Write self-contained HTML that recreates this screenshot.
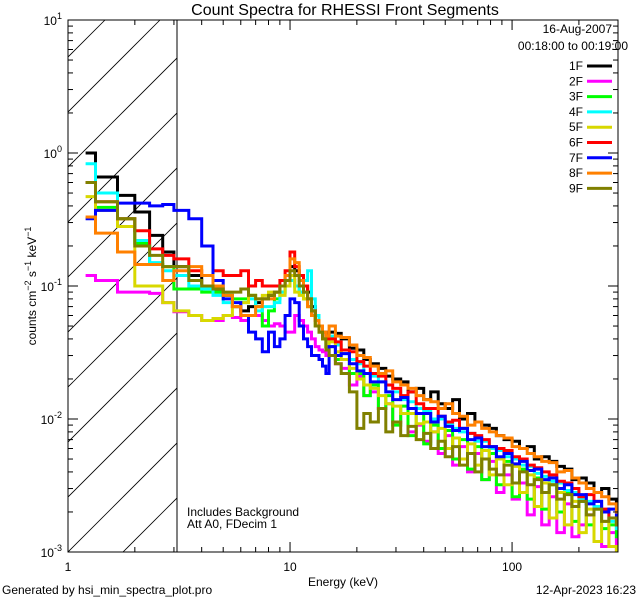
<!DOCTYPE html>
<html><head><meta charset="utf-8"><style>
body{margin:0;background:#fff}
svg text{font-family:"Liberation Sans",sans-serif;font-size:12px;fill:#000}
</style></head><body>
<svg id="chart" width="640" height="600" xmlns="http://www.w3.org/2000/svg">
<rect width="640" height="600" fill="#fff"/>
<text x="345" y="15" text-anchor="middle" style="font-size:16px">Count Spectra for RHESSI Front Segments</text>
<defs><clipPath id="plotclip"><rect x="68" y="20" width="550" height="532"/></clipPath>
<clipPath id="hatchclip"><rect x="68" y="20" width="109" height="532"/></clipPath></defs>
<g id="hatch" clip-path="url(#hatchclip)"></g>
<line x1="177" y1="20" x2="177" y2="552" stroke="#000" stroke-width="1"/>
<g id="series" clip-path="url(#plotclip)"></g>
<g id="axes"></g>
<rect x="68" y="20" width="550" height="532" fill="none" stroke="#000" stroke-width="1"/>
<text x="343" y="586" text-anchor="middle">Energy (keV)</text>
<text transform="translate(36,286) rotate(-90)" text-anchor="middle">counts cm<tspan dy="-5" style="font-size:9px">−2</tspan><tspan dy="5"> s</tspan><tspan dy="-5" style="font-size:9px">−1</tspan><tspan dy="5"> keV</tspan><tspan dy="-5" style="font-size:9px">−1</tspan></text>
<text x="612" y="33" text-anchor="end">16-Aug-2007</text>
<text x="628" y="50" text-anchor="end">00:18:00 to 00:19:00</text>
<g id="legend"></g>
<text x="187" y="516">Includes Background</text>
<text x="187" y="528">Att A0, FDecim 1</text>
<text x="2" y="594">Generated by hsi_min_spectra_plot.pro</text>
<text x="636" y="594" text-anchor="end">12-Apr-2023 16:23</text>
</svg>
<script>
const edges=[1.2,1.33,1.67,2,2.33,2.67,3,3.5,4,4.5,5,5.5,6,6.5,7,7.5,8,8.5,9,9.5,10,10.5,11,11.5,12,12.5,13,13.5,14,14.5,15,
16,17,18.5,20,21.5,23,25,27,29,31.5,34,37,40,43,46.5,50,54,58,63,68,73,79,85,92,100,108,117,126,136,147,159,172,186,200,216,234,253,273,295,300];
const seriesNames=["1F","2F","3F","4F","5F","6F","7F","8F","9F"];
const seriesColors=["#000000","#ff00ff","#00ff00","#00ffff","#d8d800","#ff0000","#0000ff","#ff8000","#808000"];
const s1F=[1.0,.66,.48,.36,.24,.18, .14,.12,.1,.09,.085,.07,.065,.07,.075,.08,.085,.09,.1,.11,.14,.13,.12,.1,.09,.07,.06,.05,.045,.04,
.045,.044,.04,.034,.033,.028,.026,.024,.021,.02,.019,.016,.017,.014,.016,.013,.012,.014,.01,.011,.0095,.009,.0085,.0075,.007,.0068,.006,.0062,.005,.0052,.0048,.0044,.0042,.0035,.0036,.0033,.0028,.003,.0025,.0022];
const s2F=[.12,.11,.09,.09,.088,.075, .064,.06,.055,.055,.06,.058,.055,.06,.06,.055,.05,.052,.05,.045,.045,.06,.055,.05,.045,.04,.035,.033,.032,.03,
.03,.026,.024,.018,.021,.015,.016,.012,.013,.0095,.011,.008,.009,.0068,.008,.0055,.0075,.0045,.0062,.004,.0055,.0035,.0048,.0028,.0038,.0025,.0033,.0019,.0031,.0016,.0026,.0014,.0023,.0013,.0016,.0019,.0012,.0011,.0014,.001];
const s3F=[.6,.39,.32,.21,.145,.14, .095,.095,.09,.09,.085,.08,.08,.085,.07,.05,.065,.08,.09,.1,.11,.1,.09,.08,.07,.06,.05,.045,.04,.035,
.035,.028,.028,.022,.022,.015,.018,.012,.015,.009,.0125,.0075,.011,.0065,.009,.006,.0082,.005,.007,.0042,.0062,.0035,.0055,.0032,.0048,.0026,.0042,.0025,.0036,.0021,.0032,.002,.0028,.0017,.0024,.0016,.0021,.0015,.0016,.0013];
const s4F=[.83,.5,.28,.22,.15,.13, .12,.1,.095,.085,.075,.07,.075,.08,.065,.07,.07,.075,.09,.1,.11,.1,.09,.11,.13,.08,.06,.05,.045,.04,
.042,.036,.031,.028,.026,.022,.021,.019,.016,.016,.014,.0135,.012,.0115,.01,.01,.0092,.0085,.008,.0078,.0068,.0068,.006,.0058,.0052,.005,.0045,.0044,.0039,.0037,.0034,.0033,.0029,.0028,.0025,.0024,.0022,.002,.0017,.0015];
const s5F=[.47,.37,.28,.1,.1,.075, .065,.06,.055,.057,.06,.07,.075,.085,.08,.085,.09,.09,.085,.1,.12,.09,.085,.08,.07,.06,.05,.045,.04,.035,
.038,.032,.028,.024,.02,.018,.017,.015,.013,.0125,.011,.011,.0092,.0095,.008,.0085,.006,.0072,.005,.0065,.0045,.0058,.0038,.005,.0032,.0044,.0028,.0038,.0022,.0033,.0018,.0028,.0016,.0024,.0014,.0021,.0012,.0017,.0011,.001];
const s6F=[.6,.43,.32,.26,.19,.17, .16,.13,.12,.13,.12,.12,.13,.1,.11,.1,.1,.1,.11,.13,.18,.14,.12,.1,.08,.065,.055,.05,.045,.04,
.04,.038,.033,.032,.027,.025,.022,.021,.018,.017,.015,.016,.013,.012,.012,.0105,.0095,.0098,.0085,.0078,.0075,.007,.0062,.006,.0058,.0052,.005,.0045,.0043,.004,.0038,.0034,.0033,.003,.0026,.0027,.0024,.0021,.0018,.0016];
const s7F=[.32,.37,.42,.42,.4,.41, .37,.32,.2,.11,.08,.075,.06,.045,.04,.032,.045,.035,.04,.06,.08,.075,.05,.04,.035,.03,.03,.028,.025,.022,
.035,.03,.031,.026,.023,.022,.019,.019,.016,.014,.0145,.012,.011,.011,.0095,.0105,.0088,.0082,.0085,.007,.0072,.0062,.0062,.0052,.0055,.0046,.0048,.0041,.0042,.0035,.0036,.003,.0032,.0027,.0027,.0023,.0024,.002,.0021,.0018];
const s8F=[.33,.25,.18,.145,.145,.11, .13,.14,.12,.1,.085,.07,.06,.06,.07,.08,.08,.09,.1,.12,.16,.15,.11,.09,.07,.06,.055,.05,.045,.042,
.05,.042,.041,.036,.03,.029,.025,.022,.023,.019,.018,.017,.015,.014,.0135,.012,.013,.011,.0105,.009,.0095,.0085,.008,.0075,.0072,.0062,.006,.0055,.0052,.0048,.0047,.004,.0041,.0036,.0033,.003,.0028,.0026,.0023,.002];
const s9F=[.6,.43,.32,.2,.17,.14, .14,.11,.1,.095,.09,.09,.095,.085,.08,.08,.085,.09,.1,.11,.13,.12,.1,.09,.08,.065,.05,.045,.04,.033,
.03,.026,.022,.016,.0085,.011,.0095,.012,.008,.0095,.0075,.0088,.007,.0078,.006,.0068,.0052,.0062,.0045,.0055,.004,.005,.0042,.0038,.0045,.0033,.004,.0032,.0035,.0028,.0032,.0025,.0027,.0022,.0024,.0019,.0021,.0017,.0018,.0016];
const allSeries=[s1F,s2F,s3F,s4F,s5F,s6F,s7F,s8F,s9F];
const yTickExps=[-3,-2,-1,0,1];
const xTickLabels=["1","10","100"];

const X0=68,X1=618,Y0=20,Y1=552;
const xMin=Math.log10(1),xMax=Math.log10(300);
const yMin=-3,yMax=1;
const xs=e=>X0+(Math.log10(e)-xMin)/(xMax-xMin)*(X1-X0);
const ys=v=>Y1-(Math.log10(v)-yMin)/(yMax-yMin)*(Y1-Y0);
const NS="http://www.w3.org/2000/svg";
function mk(tag,attrs,parent){const el=document.createElementNS(NS,tag);for(const k in attrs)el.setAttribute(k,attrs[k]);parent.appendChild(el);return el;}

const hatch=document.getElementById('hatch');
for(let k=-12;k<12;k++){
  const bx=68+k*55;
  const l=mk('line',{x1:bx,y1:552,x2:bx+532,y2:20,stroke:'#000','stroke-width':0.8},hatch);
  
  
}

const sg=document.getElementById('series');
allSeries.forEach((vals,si)=>{
  let d='';
  for(let i=0;i<vals.length;i++){
    const xa=xs(edges[i]),xb=xs(edges[i+1]),y=ys(vals[i]);
    d+=(i===0?'M':'L')+xa.toFixed(1)+','+y.toFixed(1)+'L'+xb.toFixed(1)+','+y.toFixed(1);
  }
  const p=mk('path',{d:d,fill:'none',stroke:seriesColors[si],'stroke-width':3,'stroke-linejoin':'miter'},sg);
  
  
});

const ax=document.getElementById('axes');
for(let e=0;e<3;e++){
  for(let m=1;m<10;m++){
    const v=Math.pow(10,e)*m; if(v>300)break;
    const x=xs(v),len=m===1?10:5;
    const t1=mk('line',{x1:x,y1:Y1,x2:x,y2:Y1-len,stroke:'#000'},ax);
    
    
    const t2=mk('line',{x1:x,y1:Y0,x2:x,y2:Y0+len,stroke:'#000'},ax);
    
    
  }
}
xTickLabels.forEach((lab,i)=>{
  const t=mk('text',{x:xs(Math.pow(10,i)),y:571,'text-anchor':'middle'},ax);
  t.textContent=lab;
  
  
});
yTickExps.forEach(ex=>{
  for(let m=1;m<10;m++){
    if(ex===1&&m>1)break;
    const y=ys(Math.pow(10,ex)*m),len=m===1?10:5;
    const t1=mk('line',{x1:X0,y1:y,x2:X0+len,y2:y,stroke:'#000'},ax);
    
    
    const t2=mk('line',{x1:X1,y1:y,x2:X1-len,y2:y,stroke:'#000'},ax);
    
    
  }
  const t=mk('text',{x:62,y:ys(Math.pow(10,ex))+5,'text-anchor':'end'},ax);
  t.innerHTML='10<tspan dy="-6" style="font-size:9px">'+ex+'</tspan>';
  
  
});

const lg=document.getElementById('legend');
seriesNames.forEach((n,i)=>{
  const y=66+i*15.3;
  const t=mk('text',{x:583,y:y+4,'text-anchor':'end'},lg);
  t.textContent=n;
  
  
  const l=mk('line',{x1:587,y1:y,x2:612,y2:y,stroke:seriesColors[i],'stroke-width':3},lg);
  
  
});
</script>
</body></html>
